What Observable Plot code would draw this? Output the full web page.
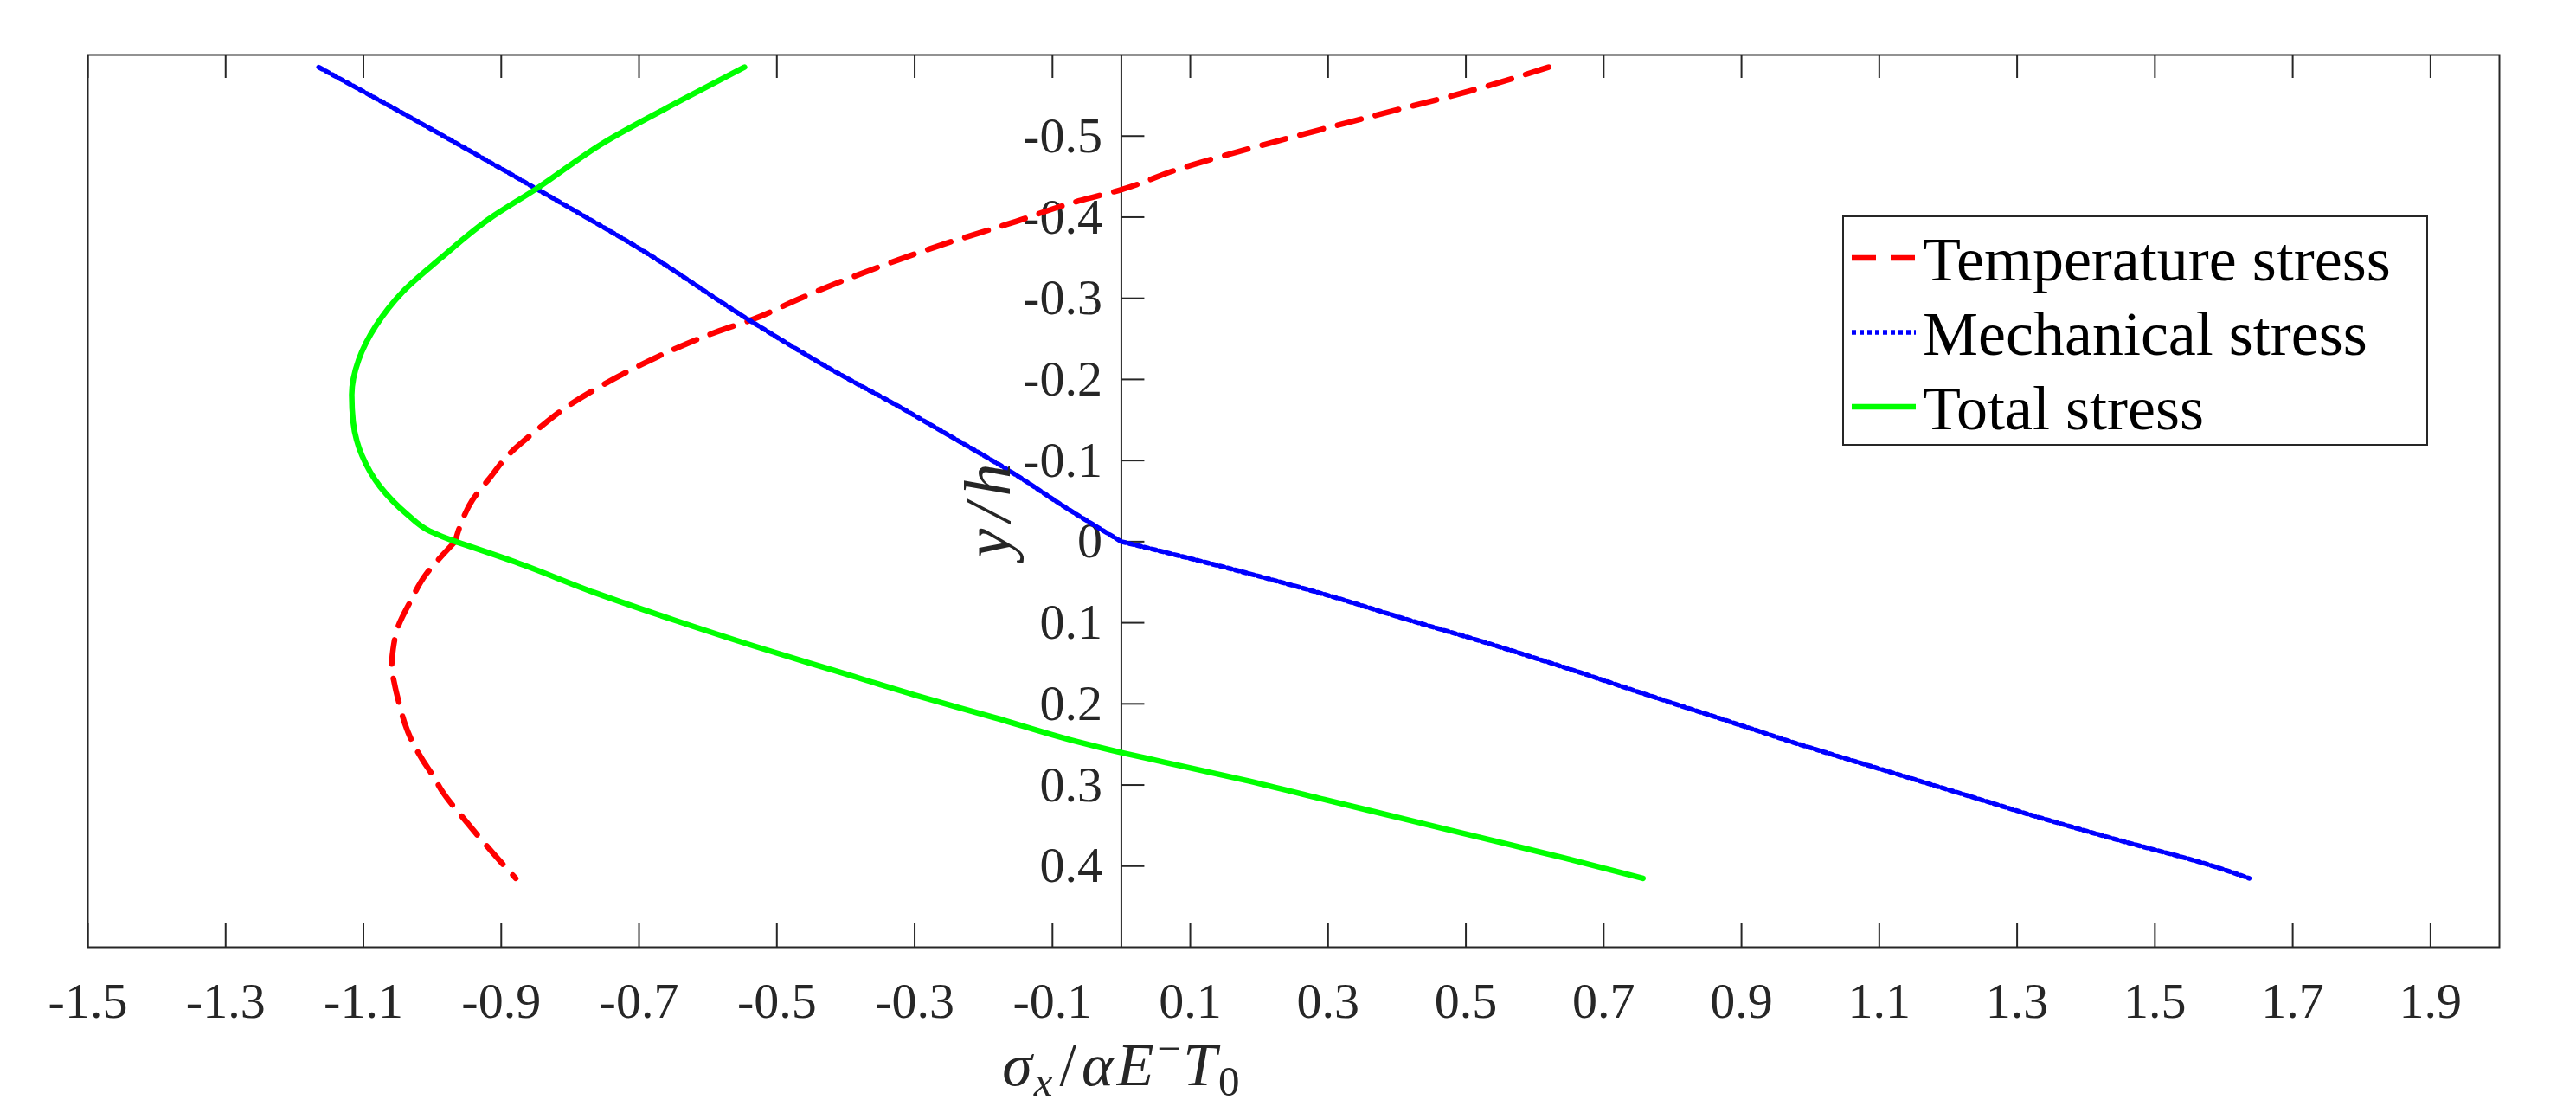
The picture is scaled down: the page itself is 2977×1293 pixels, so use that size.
<!DOCTYPE html>
<html>
<head>
<meta charset="utf-8">
<script src="https://cdn.jsdelivr.net/npm/d3@7"></script>
<script src="https://cdn.jsdelivr.net/npm/@observablehq/plot@0.6"></script>
<style>
  html, body { margin: 0; padding: 0; background: #ffffff; }
  #chart { width: 2977px; height: 1293px; }
</style>
</head>
<body>
<div id="chart"></div>
<script>
// ---------------- data ----------------
const seriesNames = ["Temperature stress", "Mechanical stress", "Total stress"];

const tempY = [-0.585, -0.558, -0.526, -0.494, -0.459, -0.434, -0.420, -0.392, -0.367, -0.347,
               -0.318, -0.298, -0.274, -0.260, -0.241, -0.219, -0.194, -0.165, -0.135, -0.110,
               -0.076, -0.051, -0.021, 0, 0.023, 0.040, 0.074, 0.108, 0.133, 0.154,
               0.175, 0.200, 0.224, 0.247, 0.268, 0.290, 0.306, 0.346, 0.382, 0.415];
const tempX = [0.620, 0.516, 0.371, 0.227, 0.082, 0.000, -0.062, -0.163, -0.257, -0.325,
               -0.415, -0.471, -0.535, -0.583, -0.639, -0.695, -0.751, -0.807, -0.852, -0.886,
               -0.919, -0.942, -0.959, -0.967, -0.992, -1.009, -1.032, -1.051, -1.057, -1.059,
               -1.055, -1.048, -1.040, -1.029, -1.015, -0.998, -0.987, -0.950, -0.914, -0.879];

const mechY = [-0.585, -0.523, -0.435, -0.359, -0.272, -0.208, -0.169, -0.128, -0.086, -0.040,
               0, 0.013, 0.038, 0.065, 0.095, 0.124, 0.155, 0.188, 0.220, 0.252,
               0.282, 0.312, 0.342, 0.370, 0.397, 0.415];
const mechX = [-1.165, -1.032, -0.849, -0.695, -0.538, -0.412, -0.328, -0.244, -0.160, -0.077,
               0, 0.063, 0.179, 0.295, 0.411, 0.527, 0.643, 0.760, 0.876, 0.992,
               1.108, 1.224, 1.340, 1.456, 1.573, 1.637];

const totalY = [-0.585, -0.544, -0.492, -0.435, -0.397, -0.350, -0.308, -0.266, -0.224, -0.181,
                -0.148, -0.106, -0.068, -0.034, -0.013, 0, 0.025, 0.063, 0.097, 0.129,
                0.159, 0.189, 0.217, 0.246, 0.260, 0.272, 0.294, 0.318, 0.342, 0.366,
                0.390, 0.415];
const totalX = [-0.547, -0.639, -0.751, -0.849, -0.919, -0.987, -1.043, -1.082, -1.107, -1.117,
                -1.115, -1.102, -1.076, -1.037, -1.004, -0.966, -0.880, -0.764, -0.648, -0.532,
                -0.416, -0.300, -0.184, -0.067, 0.000, 0.063, 0.179, 0.295, 0.411, 0.527,
                0.643, 0.757];

const xTicks = [-1.5, -1.3, -1.1, -0.9, -0.7, -0.5, -0.3, -0.1, 0.1, 0.3, 0.5, 0.7, 0.9, 1.1, 1.3, 1.5, 1.7, 1.9];
const yTicks = [-0.5, -0.4, -0.3, -0.2, -0.1, 0, 0.1, 0.2, 0.3, 0.4];
const xDomain = [-1.5, 2.0];
const yDomain = [-0.6, 0.5];

// ---------------- styles ----------------
const colors = ["#ff0000", "#0000ff", "#00ff00"];
const dashes = ["28,17", "5,4", null];
const widths = [6.5, 5.5, 6.5];
const ink = "#262626";
const serif = "'Liberation Serif', 'Times New Roman', Times, serif";

// split each series at the interface y = 0 (kink), keeping the shared point in both parts
function rows(xs, ys, name) {
  const out = [];
  xs.forEach((x, i) => {
    const y = ys[i];
    if (y <= 0) out.push({x, y, series: name, part: name + "-upper"});
    if (y >= 0) out.push({x, y, series: name, part: name + "-lower"});
  });
  return out;
}
const tempRows = rows(tempX, tempY, seriesNames[0]);
const mechRows = rows(mechX, mechY, seriesNames[1]);
const totalRows = rows(totalX, totalY, seriesNames[2]);

// ---------------- layout ----------------
const W = 2977, H = 1293;
const mL = 101, mR = 89, mT = 63, mB = 199;
const frameH = H - mT - mB;
const pxPerX = (W - mL - mR) / (xDomain[1] - xDomain[0]);
const tickLen = 27;
const fmt = d => (d === 0 ? "0" : d.toFixed(1));

const plot = Plot.plot({
  width: W,
  height: H,
  marginLeft: mL,
  marginRight: mR,
  marginTop: mT,
  marginBottom: mB,
  style: {fontFamily: serif, background: "#ffffff", color: ink, overflow: "visible"},
  x: {domain: xDomain},
  y: {domain: yDomain, reverse: true, axis: null},
  marks: [
    Plot.frame({stroke: ink, strokeWidth: 2}),
    Plot.ruleX([0], {stroke: ink, strokeWidth: 2}),
    Plot.axisX(xTicks, {tickSize: 0, tickPadding: 40, fontSize: 58, tickFormat: fmt, label: null, fill: ink}),
    Plot.ruleX(xTicks, {stroke: ink, strokeWidth: 2, insetTop: frameH - tickLen}),
    Plot.ruleX(xTicks, {stroke: ink, strokeWidth: 2, insetBottom: frameH - tickLen}),
    Plot.ruleY(yTicks, {y: d => d, x1: 0, x2: tickLen / pxPerX, stroke: ink, strokeWidth: 2}),
    Plot.text(yTicks, {x: 0, y: d => d, text: fmt, textAnchor: "end", dx: -22, fontSize: 58, fill: ink}),
    Plot.line(tempRows, {x: "x", y: "y", z: "part", curve: "monotone-y", stroke: colors[0],
      strokeWidth: widths[0], strokeDasharray: dashes[0]}),
    Plot.line(mechRows, {x: "x", y: "y", z: "part", curve: "monotone-y", stroke: colors[1],
      strokeWidth: widths[1], strokeDasharray: dashes[1]}),
    Plot.line(totalRows, {x: "x", y: "y", z: "part", curve: "monotone-y", stroke: colors[2],
      strokeWidth: widths[2]})
  ]
});

document.getElementById("chart").appendChild(plot);

// ---------------- axis labels (positioned through the plot's scales) ----------------
const svg = d3.select(plot);
const sx = plot.scale("x"), sy = plot.scale("y");

// x label: sigma_x / alpha E^- T_0
const xl = svg.append("text")
  .attr("x", sx.apply(0))
  .attr("y", H - mB + 160)
  .attr("text-anchor", "middle")
  .attr("font-family", serif)
  .attr("font-size", 70)
  .attr("fill", ink);
xl.append("tspan").attr("font-style", "italic").text("σ");
xl.append("tspan").attr("font-style", "italic").attr("font-size", 49).attr("dy", 12).attr("dx", 2).text("x");
xl.append("tspan").attr("dy", -12).attr("dx", 8).text("/");
xl.append("tspan").attr("font-style", "italic").attr("dx", 6).text("α");
xl.append("tspan").attr("font-style", "italic").attr("dx", 4).text("E");
xl.append("tspan").attr("font-size", 49).attr("dy", -26).attr("dx", 4).text("−");
xl.append("tspan").attr("font-style", "italic").attr("dy", 26).attr("dx", 2).text("T");
xl.append("tspan").attr("font-size", 49).attr("dy", 12).attr("dx", 2).text("0");

// y label: y/h, rotated
svg.append("text")
  .attr("transform", `translate(${sx.apply(0) - 128},${sy.apply(-0.042)}) rotate(-90)`)
  .attr("text-anchor", "middle")
  .attr("font-family", serif)
  .attr("font-style", "italic")
  .attr("font-size", 76)
  .attr("letter-spacing", 8)
  .attr("fill", ink)
  .text("y/h");

// ---------------- legend ----------------
const lgX = 2130, lgY = 250, lgW = 675, lgH = 264;
const lg = svg.append("g").attr("text-anchor", "start");
lg.append("rect").attr("x", lgX).attr("y", lgY).attr("width", lgW).attr("height", lgH)
  .attr("fill", "#ffffff").attr("stroke", ink).attr("stroke-width", 2);
seriesNames.forEach((name, i) => {
  const base = lgY + 74 + i * 86;
  lg.append("line")
    .attr("x1", lgX + 10).attr("x2", lgX + 84)
    .attr("y1", base - 26).attr("y2", base - 26)
    .attr("stroke", colors[i]).attr("stroke-width", widths[i])
    .attr("stroke-dasharray", dashes[i]);
  lg.append("text")
    .attr("x", lgX + 92).attr("y", base)
    .attr("text-anchor", "start")
    .attr("font-family", serif).attr("font-size", 72).attr("fill", "#000000")
    .text(name);
});
</script>
</body>
</html>
